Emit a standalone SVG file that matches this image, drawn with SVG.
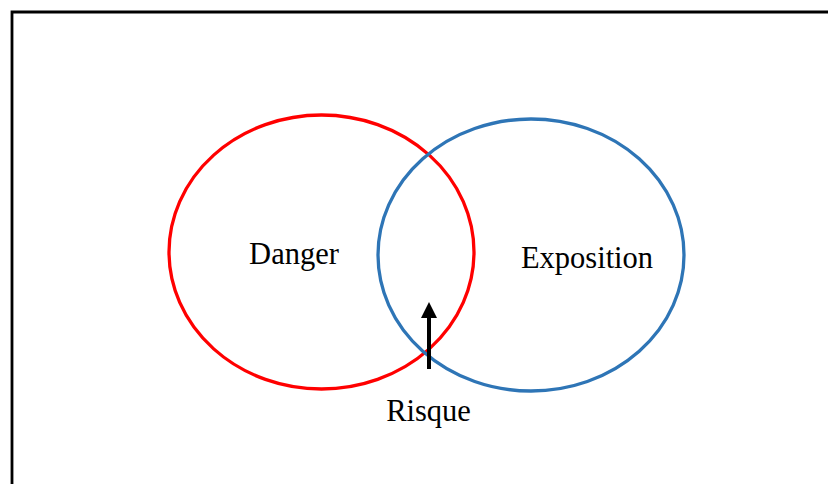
<svg xmlns="http://www.w3.org/2000/svg" width="828" height="484" viewBox="0 0 828 484">
  <defs>
    <style>
      .label { font-family: "Liberation Serif", "Times New Roman", serif; font-size: 30.5px; fill: #000; }
      .set { fill: none; stroke-width: 3.3; }
    </style>
    <marker id="head" viewBox="0 0 10 10" refX="0" refY="5" markerWidth="4" markerHeight="4" orient="auto" markerUnits="strokeWidth">
      <path d="M0,0 L10,5 L0,10 Z" fill="#000"/>
    </marker>
  </defs>
  <rect width="828" height="484" fill="#fff"/>
  <!-- outer frame -->
  <path d="M12,484 V12 H828" fill="none" stroke="#000" stroke-width="2.8"/>

  <g id="danger">
    <ellipse class="set" cx="321.5" cy="252" rx="152.5" ry="137" stroke="#ff0000"/>
    <text class="label" x="294" y="264" text-anchor="middle">Danger</text>
  </g>
  <g id="exposition">
    <ellipse class="set" cx="531" cy="255" rx="153" ry="136" stroke="#2e75b6"/>
    <text class="label" x="587" y="268" text-anchor="middle">Exposition</text>
  </g>
  <g id="risque">
    <text class="label" x="428.5" y="421" text-anchor="middle">Risque</text>
  </g>

  <g id="connectors">
    <line x1="429" y1="369" x2="429" y2="318" stroke="#000" stroke-width="4" marker-end="url(#head)"/>
  </g>
</svg>
